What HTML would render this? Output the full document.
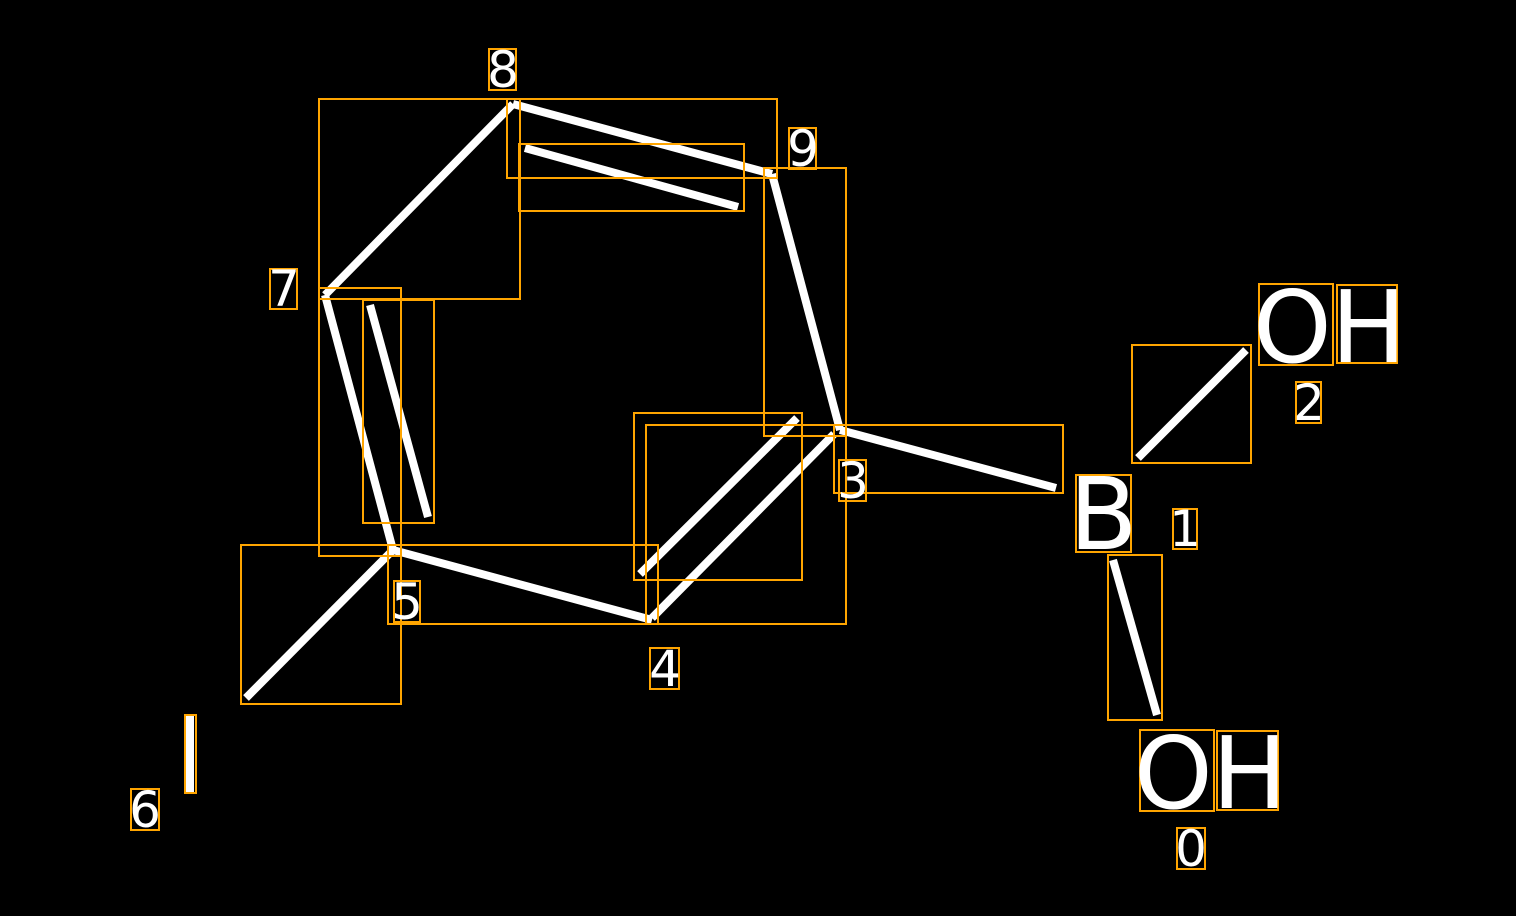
<!DOCTYPE html>
<html><head><meta charset="utf-8"><style>
html,body{margin:0;padding:0;background:#000;width:1516px;height:916px;overflow:hidden}
text{font-family:"DejaVu Sans","Liberation Sans",sans-serif;fill:#fff}
</style></head><body>
<svg width="1516" height="916" xmlns="http://www.w3.org/2000/svg">
<rect width="1516" height="916" fill="#000"/>
<g stroke="#fff" stroke-width="8" stroke-linecap="butt">
<line x1="513" y1="104" x2="325" y2="295"/>
<line x1="513" y1="104" x2="772" y2="174"/>
<line x1="525" y1="148" x2="738" y2="207"/>
<line x1="772" y1="174" x2="840" y2="430"/>
<line x1="840" y1="430" x2="1056" y2="488"/>
<line x1="325" y1="295" x2="393" y2="550"/>
<line x1="370" y1="305" x2="428" y2="517"/>
<line x1="393" y1="550" x2="652" y2="620"/>
<line x1="652" y1="618" x2="834" y2="434"/>
<line x1="640" y1="574" x2="797" y2="418"/>
<line x1="393" y1="550" x2="246" y2="698"/>
<line x1="1138" y1="458" x2="1246" y2="350"/>
<line x1="1113" y1="560" x2="1157" y2="715"/>
<line x1="190" y1="716" x2="190" y2="792"/>
</g>
<g fill="none" stroke="#FFA500" stroke-width="2">
<rect x="319" y="99" width="201" height="200"/>
<rect x="507" y="99" width="270" height="79"/>
<rect x="519" y="144" width="225" height="67"/>
<rect x="764" y="168" width="82" height="268"/>
<rect x="319" y="288" width="82" height="268"/>
<rect x="363" y="300" width="71" height="223"/>
<rect x="634" y="413" width="168" height="167"/>
<rect x="646" y="425" width="200" height="199"/>
<rect x="834" y="425" width="229" height="68"/>
<rect x="388" y="545" width="270" height="79"/>
<rect x="241" y="545" width="160" height="159"/>
<rect x="1132" y="345" width="119" height="118"/>
<rect x="1108" y="555" width="54" height="165"/>
<rect x="185" y="715" width="11" height="78"/>
<rect x="489" y="49" width="27" height="41"/>
<rect x="789" y="128" width="27" height="41"/>
<rect x="270" y="269" width="27" height="40"/>
<rect x="839" y="460" width="27" height="41"/>
<rect x="394" y="581" width="26" height="41"/>
<rect x="650" y="648" width="29" height="41"/>
<rect x="131" y="789" width="28" height="41"/>
<rect x="1173" y="509" width="24" height="40"/>
<rect x="1296" y="382" width="25" height="41"/>
<rect x="1177" y="828" width="28" height="41"/>
<rect x="1076" y="475" width="55" height="77"/>
<rect x="1259" y="284" width="74" height="81"/>
<rect x="1337" y="285" width="60" height="78"/>
<rect x="1140" y="730" width="74" height="81"/>
<rect x="1217" y="731" width="61" height="79"/>
</g>
<g font-size="50" text-anchor="middle">
<text x="503" y="87">8</text>
<text x="803" y="166">9</text>
<text x="284" y="306">7</text>
<text x="853" y="498">3</text>
<text x="407" y="619">5</text>
<text x="665" y="686">4</text>
<text x="145" y="827">6</text>
<text x="1185" y="546">1</text>
<text x="1309" y="420">2</text>
<text x="1191" y="866">0</text>
</g>
<g font-size="100">
<text x="1069" y="549">B</text>
<text x="1253" y="362">O</text>
<text x="1331" y="362">H</text>
<text x="1134" y="808">O</text>
<text x="1212" y="808">H</text>
</g>
</svg>
</body></html>
